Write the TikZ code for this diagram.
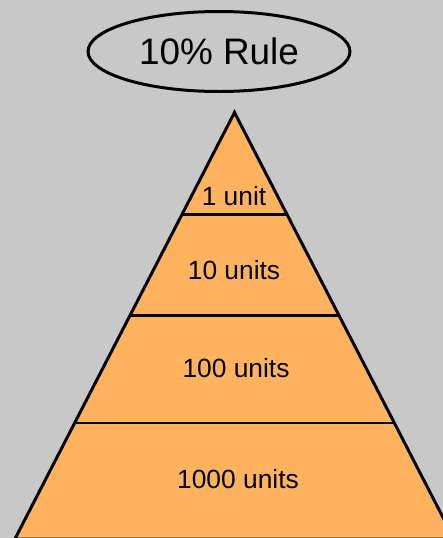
\documentclass[tikz,border=0pt]{standalone}
\usepackage{fontspec}
\setsansfont{Liberation Sans}
\usetikzlibrary{shapes,calc}
\definecolor{bggray}{HTML}{C8C8C8}
\definecolor{tierorange}{HTML}{FFB35E}
\tikzset{
  tier/.style={align=center,draw=none,fill=none,font=\sffamily\fontsize{15}{18}\selectfont},
  pyredge/.style={line width=1.7pt,line join=miter}
}

\begin{document}
\begin{tikzpicture}[x=0.02cm,y=-0.02cm]
% Background
\fill[bggray] (0,0) rectangle (443,538);
\useasboundingbox (0,0) rectangle (443,538);
% Title
\draw(219,51.5) node[ellipse,draw=black,line width=1.7pt,inner sep=0pt,minimum width=5.24cm,minimum height=1.6cm,font=\sffamily\fontsize{21}{25}\selectfont](rule){10\% Rule};

% Pyramid
\coordinate (apex) at (234.5,112.5);
\coordinate (bl) at (14.9,539);
\coordinate (br) at (454.1,539);
\begin{scope}
\clip (0,0) rectangle (443,538);
\draw[pyredge,fill=tierorange] (apex) -- (bl) -- (br) -- cycle;
%% Tier borders
\draw[pyredge] ($(apex)!0.2403!(bl)$) -- ($(apex)!0.2403!(br)$);
\draw[pyredge] ($(apex)!0.4771!(bl)$) -- ($(apex)!0.4771!(br)$);
\draw[pyredge] ($(apex)!0.7280!(bl)$) -- ($(apex)!0.7280!(br)$);
\end{scope}

% Tier labels
\node[tier] (u1) at (234,196) {1 unit};
\node[tier] (u10) at (234,270) {10 units};
\node[tier] (u100) at (236,368) {100 units};
\node[tier] (u1000) at (238,479) {1000 units};
\end{tikzpicture}
\end{document}
